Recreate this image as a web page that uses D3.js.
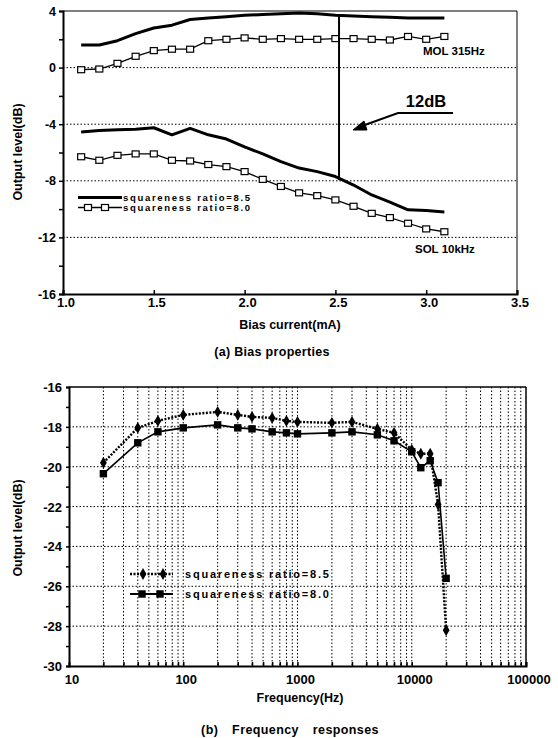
<!DOCTYPE html>
<html>
<head>
<meta charset="utf-8">
<script src="https://cdn.jsdelivr.net/npm/d3@7"></script>
<style>
  body { margin: 0; background: #fff; }
  svg { display: block; }
  text { font-family: "Liberation Sans", Arial, sans-serif; font-weight: bold; fill: #000; }
</style>
</head>
<body>
<script>
// ---- (a) bias properties ----
const biasCurrent = [1.1, 1.2, 1.3, 1.4, 1.5, 1.6, 1.7, 1.8, 1.9, 2.0, 2.1, 2.2, 2.3, 2.4, 2.5, 2.6, 2.7, 2.8, 2.9, 3.0, 3.1];
const mol85 = [1.6, 1.6, 1.9, 2.4, 2.8, 3.0, 3.4, 3.5, 3.6, 3.7, 3.75, 3.8, 3.85, 3.8, 3.7, 3.65, 3.6, 3.55, 3.5, 3.5, 3.5];
const mol80 = [-0.15, -0.1, 0.3, 0.8, 1.2, 1.3, 1.3, 1.9, 2.0, 2.1, 2.0, 2.05, 2.0, 2.0, 2.05, 2.05, 2.0, 1.95, 2.2, 2.0, 2.2];
const sol85 = [-4.55, -4.45, -4.4, -4.35, -4.25, -4.75, -4.3, -4.75, -5.05, -5.6, -6.1, -6.65, -7.1, -7.35, -7.7, -8.3, -9.0, -9.5, -10.05, -10.1, -10.2];
const sol80 = [-6.3, -6.55, -6.2, -6.1, -6.1, -6.55, -6.6, -6.85, -7.0, -7.35, -7.9, -8.4, -8.85, -9.05, -9.35, -9.8, -10.3, -10.6, -11.0, -11.4, -11.6];
const biasTicks = [1.0, 1.5, 2.0, 2.5, 3.0, 3.5];
const levelTicksA = [4, 0, -4, -8, -12, -16];

// ---- (b) frequency responses ----
const freqs = [20, 40, 60, 100, 200, 300, 400, 600, 800, 1000, 2000, 3000, 5000, 7000, 10000, 12000, 14500, 17000, 20000];
const resp85 = [-19.8, -18.05, -17.7, -17.4, -17.25, -17.4, -17.5, -17.55, -17.7, -17.75, -17.8, -17.75, -18.1, -18.3, -19.15, -19.35, -19.35, -21.9, -28.2];
const resp80 = [-20.35, -18.8, -18.25, -18.05, -17.9, -18.05, -18.1, -18.25, -18.3, -18.35, -18.3, -18.25, -18.4, -18.7, -19.25, -20.05, -19.7, -20.8, -25.6];
const freqTicks = [10, 100, 1000, 10000, 100000];
const levelTicksB = [-16, -18, -20, -22, -24, -26, -28, -30];

const svg = d3.select('body').append('svg')
   .attr('width', 558)
   .attr('height', 738);

const dotted = '1.5,2';

// ================= chart (a) =================
const xA = d3.scaleLinear().domain([1, 3.5]).range([63, 517]);
const yA = d3.scaleLinear().domain([-16, 4]).range([294, 11]);
const gA = svg.append('g');

// grid lines (horizontal only)
gA.selectAll('.gridA')
   .data([0, -4, -8, -12])
   .enter().append('line')
   .attr('x1', xA(1)).attr('x2', xA(3.5))
   .attr('y1', d => yA(d)).attr('y2', d => yA(d))
   .attr('stroke', '#000').attr('stroke-width', 1)
   .attr('stroke-dasharray', dotted);

// frame
gA.append('line').attr('x1', xA(1)).attr('x2', xA(3.5)).attr('y1', yA(4)).attr('y2', yA(4))
   .attr('stroke', '#000').attr('stroke-width', 1);
gA.append('line').attr('x1', xA(3.5)).attr('x2', xA(3.5)).attr('y1', yA(4)).attr('y2', yA(-16))
   .attr('stroke', '#000').attr('stroke-width', 1);

// axes
const axisLeftA = gA.append('g')
   .attr('transform', `translate(${xA(1)},0)`)
   .call(d3.axisLeft(yA).tickValues(d3.range(-16, 5, 2)).tickSize(4).tickFormat(''));
const axisBottomA = gA.append('g')
   .attr('transform', `translate(0,${yA(-16)})`)
   .call(d3.axisBottom(xA).tickValues(biasTicks).tickSize(-4).tickFormat(''));
[axisLeftA, axisBottomA].forEach(a => {
   a.select('.domain').attr('stroke-width', 2);
   a.selectAll('.tick line').attr('stroke-width', 1.5);
});

gA.selectAll('.ylabA')
   .data(levelTicksA)
   .enter().append('text')
   .attr('x', 56).attr('y', d => yA(d) + 4.5)
   .attr('text-anchor', 'end').attr('font-size', 12.5)
   .text(d => d);

gA.selectAll('.xlabA')
   .data(biasTicks)
   .enter().append('text')
   .attr('x', d => xA(d) + 3).attr('y', 307)
   .attr('text-anchor', 'middle').attr('font-size', 13)
   .text(d => d.toFixed(1));

gA.append('text')
   .attr('transform', 'translate(22,152) rotate(-90)')
   .attr('text-anchor', 'middle').attr('font-size', 12.5)
   .text('Output level(dB)');
gA.append('text')
   .attr('x', 290).attr('y', 329)
   .attr('text-anchor', 'middle').attr('font-size', 12.5)
   .text('Bias current(mA)');
gA.append('text')
   .attr('x', 272).attr('y', 356)
   .attr('text-anchor', 'middle').attr('font-size', 12.5)
   .style('letter-spacing', '0.3px')
   .text('(a) Bias properties');

const lineA = (vals) => d3.line()
   .x((d, i) => xA(biasCurrent[i]))
   .y(d => yA(d))
   .curve(d3.curveLinear)(vals);

// thick solid curves (ratio 8.5)
[mol85, sol85].forEach(vals => {
   gA.append('path').attr('d', lineA(vals))
      .attr('fill', 'none').attr('stroke', '#000').attr('stroke-width', 3)
      .attr('stroke-linejoin', 'round');
});
// thin curves with open squares (ratio 8.0)
[mol80, sol80].forEach(vals => {
   gA.append('path').attr('d', lineA(vals))
      .attr('fill', 'none').attr('stroke', '#000').attr('stroke-width', 1.3);
   gA.selectAll(null)
      .data(vals)
      .enter().append('rect')
      .attr('x', (d, i) => xA(biasCurrent[i]) - 3.5)
      .attr('y', d => yA(d) - 3)
      .attr('width', 7).attr('height', 6)
      .attr('fill', '#fff').attr('stroke', '#000').attr('stroke-width', 1.2);
});

// 12 dB marker
const markX = 2.52;
gA.append('line')
   .attr('x1', xA(markX)).attr('x2', xA(markX))
   .attr('y1', yA(3.72)).attr('y2', yA(-7.95))
   .attr('stroke', '#000').attr('stroke-width', 2);
gA.append('text')
   .attr('x', 426).attr('y', 107)
   .attr('text-anchor', 'middle').attr('font-size', 16.5)
   .text('12dB');
gA.append('path')
   .attr('d', 'M453,113 L398,113 L362,126')
   .attr('fill', 'none').attr('stroke', '#000').attr('stroke-width', 2);
gA.append('path')
   .attr('d', 'M353,130 L364,121 L367,130 Z')
   .attr('fill', '#000').attr('stroke', '#000').attr('stroke-width', 1);

gA.append('text')
   .attr('x', 423).attr('y', 55).attr('font-size', 11.5)
   .text('MOL 315Hz');
gA.append('text')
   .attr('x', 415).attr('y', 253).attr('font-size', 11.5)
   .text('SOL 10kHz');

// legend (a)
gA.append('line').attr('x1', 78).attr('x2', 122).attr('y1', 197.5).attr('y2', 197.5)
   .attr('stroke', '#000').attr('stroke-width', 3);
gA.append('line').attr('x1', 78).attr('x2', 122).attr('y1', 207.5).attr('y2', 207.5)
   .attr('stroke', '#000').attr('stroke-width', 1.3);
gA.selectAll('.legsq')
   .data([88, 105])
   .enter().append('rect')
   .attr('x', d => d - 3.5).attr('y', 204.5)
   .attr('width', 7).attr('height', 6)
   .attr('fill', '#fff').attr('stroke', '#000').attr('stroke-width', 1.2);
gA.selectAll('.legtxtA')
   .data(['squareness ratio=8.5', 'squareness ratio=8.0'])
   .enter().append('text')
   .attr('x', 123).attr('y', (d, i) => 201 + i * 10)
   .attr('font-size', 9.5).style('letter-spacing', '1.7px')
   .text(d => d);

// ================= chart (b) =================
const xB = d3.scaleLog().domain([10, 100000]).range([69, 526]);
const yB = d3.scaleLinear().domain([-30, -16]).range([666, 387]);
const gB = svg.append('g');

const minorFreqs = [];
[10, 100, 1000, 10000].forEach(dec => {
   for (let k = 2; k <= 10; k++) minorFreqs.push(dec * k);
});

gB.selectAll('.vgrid')
   .data(minorFreqs.filter(f => f < 100000))
   .enter().append('line')
   .attr('x1', d => xB(d)).attr('x2', d => xB(d))
   .attr('y1', yB(-16)).attr('y2', yB(-30))
   .attr('stroke', '#000').attr('stroke-width', 1)
   .attr('stroke-dasharray', dotted);
gB.selectAll('.hgrid')
   .data([-18, -20, -22, -24, -26, -28])
   .enter().append('line')
   .attr('x1', xB(10)).attr('x2', xB(100000))
   .attr('y1', d => yB(d)).attr('y2', d => yB(d))
   .attr('stroke', '#000').attr('stroke-width', 1)
   .attr('stroke-dasharray', dotted);

gB.append('line').attr('x1', xB(10)).attr('x2', xB(100000)).attr('y1', yB(-16)).attr('y2', yB(-16))
   .attr('stroke', '#000').attr('stroke-width', 1.5);
gB.append('line').attr('x1', xB(100000)).attr('x2', xB(100000)).attr('y1', yB(-16)).attr('y2', yB(-30))
   .attr('stroke', '#000').attr('stroke-width', 1.5);

const axisLeftB = gB.append('g')
   .attr('transform', `translate(${xB(10)},0)`)
   .call(d3.axisLeft(yB).tickValues(d3.range(-30, -15, 1)).tickSize(3).tickFormat(''));
const axisBottomB = gB.append('g')
   .attr('transform', `translate(0,${yB(-30)})`)
   .call(d3.axisBottom(xB).tickValues(minorFreqs).tickSize(-4).tickFormat(''));
[axisLeftB, axisBottomB].forEach(a => {
   a.select('.domain').attr('stroke-width', 2);
   a.selectAll('.tick line').attr('stroke-width', 1.5);
});

gB.selectAll('.ylabB')
   .data(levelTicksB)
   .enter().append('text')
   .attr('x', 62).attr('y', d => yB(d) + 5)
   .attr('text-anchor', 'end').attr('font-size', 13)
   .text(d => d);
gB.selectAll('.xlabB')
   .data(freqTicks)
   .enter().append('text')
   .attr('x', d => xB(d) + 3).attr('y', 684)
   .attr('text-anchor', 'middle').attr('font-size', 13)
   .text(d => d);

gB.append('text')
   .attr('transform', 'translate(22,528) rotate(-90)')
   .attr('text-anchor', 'middle').attr('font-size', 12.5)
   .text('Output level(dB)');
gB.append('text')
   .attr('x', 300).attr('y', 702)
   .attr('text-anchor', 'middle').attr('font-size', 12.5)
   .text('Frequency(Hz)');
gB.append('text')
   .attr('x', 290).attr('y', 734)
   .attr('text-anchor', 'middle').attr('font-size', 12.5)
   .style('letter-spacing', '0.4px')
   .style('word-spacing', '10px')
   .text('(b) Frequency responses');

const lineB = d3.line()
   .x((d, i) => xB(freqs[i]))
   .y(d => yB(d));

// ratio 8.0 : solid line, filled squares
gB.append('path').attr('d', lineB(resp80))
   .attr('fill', 'none').attr('stroke', '#000').attr('stroke-width', 1.6);
gB.selectAll('.sq80')
   .data(resp80)
   .enter().append('path')
   .attr('transform', (d, i) => `translate(${xB(freqs[i])},${yB(d)})`)
   .attr('d', d3.symbol(d3.symbolSquare, 55));

// ratio 8.5 : dotted thick line, small diamonds
gB.append('path').attr('d', lineB(resp85))
   .attr('fill', 'none').attr('stroke', '#000').attr('stroke-width', 2.4)
   .attr('stroke-dasharray', '2,1.5');
gB.selectAll('.dm85')
   .data(resp85)
   .enter().append('path')
   .attr('transform', (d, i) => `translate(${xB(freqs[i])},${yB(d)})`)
   .attr('d', d3.symbol(d3.symbolDiamond, 40));

// legend (b)
gB.append('line').attr('x1', 130).attr('x2', 173).attr('y1', 574).attr('y2', 574)
   .attr('stroke', '#000').attr('stroke-width', 2.4).attr('stroke-dasharray', '2,1.5');
gB.selectAll('.legdm')
   .data([143, 163])
   .enter().append('path')
   .attr('transform', d => `translate(${d},574)`)
   .attr('d', d3.symbol(d3.symbolDiamond, 40));
gB.append('line').attr('x1', 130).attr('x2', 173).attr('y1', 594).attr('y2', 594)
   .attr('stroke', '#000').attr('stroke-width', 2);
gB.selectAll('.legsqB')
   .data([142, 160])
   .enter().append('path')
   .attr('transform', d => `translate(${d},594)`)
   .attr('d', d3.symbol(d3.symbolSquare, 55));
gB.selectAll('.legtxtB')
   .data(['squareness ratio=8.5', 'squareness ratio=8.0'])
   .enter().append('text')
   .attr('x', 185).attr('y', (d, i) => 578 + i * 20)
   .attr('font-size', 11).style('letter-spacing', '1.8px')
   .text(d => d);
</script>
</body>
</html>
